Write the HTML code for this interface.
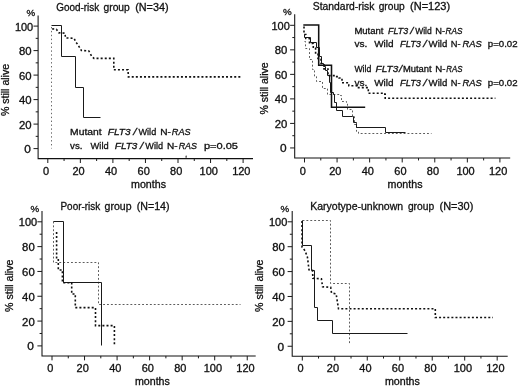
<!DOCTYPE html>
<html><head><meta charset="utf-8"><title>Survival by risk group</title>
<style>
html,body{margin:0;padding:0;background:#fff}
body{width:520px;height:386px;overflow:hidden}
svg{display:block}
text{font-family:"Liberation Sans",sans-serif;fill:#111;stroke:#111;stroke-width:0.3px}
.n{font-size:10px}
.t{font-size:10.6px}
.a{font-size:9.5px}
.b{font-size:9.0px}
.c{font-size:9.6px}
i{font-style:italic}
</style></head><body>
<svg width="520" height="386" viewBox="0 0 520 386">
<rect width="520" height="386" fill="#fff"/>
<path d="M38.1 15.5V158.6H253" fill="none" stroke="#111" stroke-width="1.05"/>
<path d="M33.50 148.60H38.1M35.70 136.35H38.1M33.50 124.10H38.1M35.70 111.85H38.1M33.50 99.60H38.1M35.70 87.35H38.1M33.50 75.10H38.1M35.70 62.85H38.1M33.50 50.60H38.1M35.70 38.35H38.1M33.50 26.10H38.1M47.80 158.6V163.00M64.07 158.6V161.00M80.35 158.6V163.00M96.62 158.6V161.00M112.90 158.6V163.00M129.18 158.6V161.00M145.45 158.6V163.00M161.72 158.6V161.00M178.00 158.6V163.00M194.27 158.6V161.00M210.55 158.6V163.00M226.82 158.6V161.00M243.10 158.6V163.00" fill="none" stroke="#1a1a1a" stroke-width="1"/>
<text x="24.20" y="153.00" class="n" textLength="6.6" lengthAdjust="spacingAndGlyphs">0</text>
<text x="19.00" y="128.50" class="n" textLength="12.6" lengthAdjust="spacingAndGlyphs">20</text>
<text x="19.00" y="104.00" class="n" textLength="12.6" lengthAdjust="spacingAndGlyphs">40</text>
<text x="19.00" y="79.50" class="n" textLength="12.6" lengthAdjust="spacingAndGlyphs">60</text>
<text x="19.00" y="55.00" class="n" textLength="12.6" lengthAdjust="spacingAndGlyphs">80</text>
<text x="14.90" y="30.50" class="n" textLength="18.3" lengthAdjust="spacingAndGlyphs">100</text>
<text x="42.95" y="174.70" class="n" textLength="6.1" lengthAdjust="spacingAndGlyphs">0</text>
<text x="72.45" y="174.70" class="n" textLength="12.2" lengthAdjust="spacingAndGlyphs">20</text>
<text x="105.00" y="174.70" class="n" textLength="12.2" lengthAdjust="spacingAndGlyphs">40</text>
<text x="137.55" y="174.70" class="n" textLength="12.2" lengthAdjust="spacingAndGlyphs">60</text>
<text x="170.10" y="174.70" class="n" textLength="12.2" lengthAdjust="spacingAndGlyphs">80</text>
<text x="199.60" y="174.70" class="n" textLength="18.3" lengthAdjust="spacingAndGlyphs">100</text>
<text x="232.15" y="174.70" class="n" textLength="18.3" lengthAdjust="spacingAndGlyphs">120</text>
<text x="26.50" y="16.20" class="n" style="font-size:9.2px" textLength="8.7" lengthAdjust="spacingAndGlyphs">%</text>
<text x="131.05" y="187.60" class="n" textLength="35" lengthAdjust="spacingAndGlyphs">months</text>
<text transform="translate(9.2 90) rotate(-90)" class="n" style="font-size:10.2px" x="-26.1" textLength="52.2" lengthAdjust="spacingAndGlyphs">% still alive</text>
<text x="56.2" y="10.5" class="t" textLength="43.0" lengthAdjust="spacingAndGlyphs">Good-risk</text>
<text x="103.5" y="10.5" class="t" textLength="26.3" lengthAdjust="spacingAndGlyphs">group</text>
<text x="135.2" y="10.5" class="t" textLength="33.4" lengthAdjust="spacingAndGlyphs">(N=34)</text>
<path d="M294.7 14.3V158.05H510.2" fill="none" stroke="#111" stroke-width="1.05"/>
<path d="M290.10 147.95H294.7M292.30 135.69H294.7M290.10 123.42H294.7M292.30 111.15H294.7M290.10 98.89H294.7M292.30 86.62H294.7M290.10 74.36H294.7M292.30 62.09H294.7M290.10 49.83H294.7M292.30 37.56H294.7M290.10 25.30H294.7M304.50 158.05V162.45M320.79 158.05V160.45M337.07 158.05V162.45M353.36 158.05V160.45M369.64 158.05V162.45M385.93 158.05V160.45M402.21 158.05V162.45M418.50 158.05V160.45M434.78 158.05V162.45M451.06 158.05V160.45M467.35 158.05V162.45M483.63 158.05V160.45M499.92 158.05V162.45" fill="none" stroke="#1a1a1a" stroke-width="1"/>
<text x="280.00" y="152.35" class="n" textLength="6.6" lengthAdjust="spacingAndGlyphs">0</text>
<text x="274.80" y="127.82" class="n" textLength="12.6" lengthAdjust="spacingAndGlyphs">20</text>
<text x="274.80" y="103.29" class="n" textLength="12.6" lengthAdjust="spacingAndGlyphs">40</text>
<text x="274.80" y="78.76" class="n" textLength="12.6" lengthAdjust="spacingAndGlyphs">60</text>
<text x="274.80" y="54.23" class="n" textLength="12.6" lengthAdjust="spacingAndGlyphs">80</text>
<text x="271.50" y="29.70" class="n" textLength="18.3" lengthAdjust="spacingAndGlyphs">100</text>
<text x="299.65" y="174.80" class="n" textLength="6.1" lengthAdjust="spacingAndGlyphs">0</text>
<text x="329.17" y="174.80" class="n" textLength="12.2" lengthAdjust="spacingAndGlyphs">20</text>
<text x="361.74" y="174.80" class="n" textLength="12.2" lengthAdjust="spacingAndGlyphs">40</text>
<text x="394.31" y="174.80" class="n" textLength="12.2" lengthAdjust="spacingAndGlyphs">60</text>
<text x="426.88" y="174.80" class="n" textLength="12.2" lengthAdjust="spacingAndGlyphs">80</text>
<text x="456.40" y="174.80" class="n" textLength="18.3" lengthAdjust="spacingAndGlyphs">100</text>
<text x="488.97" y="174.80" class="n" textLength="18.3" lengthAdjust="spacingAndGlyphs">120</text>
<text x="283.10" y="15.00" class="n" style="font-size:9.2px" textLength="8.7" lengthAdjust="spacingAndGlyphs">%</text>
<text x="387.50" y="187.60" class="n" textLength="35" lengthAdjust="spacingAndGlyphs">months</text>
<text transform="translate(268.1 88.4) rotate(-90)" class="n" style="font-size:10.2px" x="-26.1" textLength="52.2" lengthAdjust="spacingAndGlyphs">% still alive</text>
<text x="312.8" y="9.5" class="t" textLength="61.6" lengthAdjust="spacingAndGlyphs">Standard-risk</text>
<text x="378.7" y="9.5" class="t" textLength="26.1" lengthAdjust="spacingAndGlyphs">group</text>
<text x="410.0" y="9.5" class="t" textLength="40.2" lengthAdjust="spacingAndGlyphs">(N=123)</text>
<path d="M42.0 211V355.95H255.7" fill="none" stroke="#111" stroke-width="1.05"/>
<path d="M37.40 345.90H42.0M39.60 333.49H42.0M37.40 321.08H42.0M39.60 308.67H42.0M37.40 296.26H42.0M39.60 283.85H42.0M37.40 271.44H42.0M39.60 259.03H42.0M37.40 246.62H42.0M39.60 234.21H42.0M37.40 221.80H42.0M52.00 355.95V360.35M68.27 355.95V358.35M84.54 355.95V360.35M100.81 355.95V358.35M117.08 355.95V360.35M133.35 355.95V358.35M149.62 355.95V360.35M165.89 355.95V358.35M182.16 355.95V360.35M198.43 355.95V358.35M214.70 355.95V360.35M230.97 355.95V358.35M247.24 355.95V360.35" fill="none" stroke="#1a1a1a" stroke-width="1"/>
<text x="27.30" y="350.40" class="n" textLength="6.6" lengthAdjust="spacingAndGlyphs">0</text>
<text x="22.10" y="325.58" class="n" textLength="12.6" lengthAdjust="spacingAndGlyphs">20</text>
<text x="22.10" y="300.76" class="n" textLength="12.6" lengthAdjust="spacingAndGlyphs">40</text>
<text x="22.10" y="275.94" class="n" textLength="12.6" lengthAdjust="spacingAndGlyphs">60</text>
<text x="22.10" y="251.12" class="n" textLength="12.6" lengthAdjust="spacingAndGlyphs">80</text>
<text x="18.80" y="226.30" class="n" textLength="18.3" lengthAdjust="spacingAndGlyphs">100</text>
<text x="47.15" y="372.10" class="n" textLength="6.1" lengthAdjust="spacingAndGlyphs">0</text>
<text x="76.64" y="372.10" class="n" textLength="12.2" lengthAdjust="spacingAndGlyphs">20</text>
<text x="109.18" y="372.10" class="n" textLength="12.2" lengthAdjust="spacingAndGlyphs">40</text>
<text x="141.72" y="372.10" class="n" textLength="12.2" lengthAdjust="spacingAndGlyphs">60</text>
<text x="174.26" y="372.10" class="n" textLength="12.2" lengthAdjust="spacingAndGlyphs">80</text>
<text x="203.75" y="372.10" class="n" textLength="18.3" lengthAdjust="spacingAndGlyphs">100</text>
<text x="236.29" y="372.10" class="n" textLength="18.3" lengthAdjust="spacingAndGlyphs">120</text>
<text x="30.40" y="211.70" class="n" style="font-size:9.2px" textLength="8.7" lengthAdjust="spacingAndGlyphs">%</text>
<text x="134.90" y="385.00" class="n" textLength="35" lengthAdjust="spacingAndGlyphs">months</text>
<text transform="translate(13.1 285.8) rotate(-90)" class="n" style="font-size:10.2px" x="-26.1" textLength="52.2" lengthAdjust="spacingAndGlyphs">% still alive</text>
<text x="60.5" y="209.7" class="t" textLength="39.7" lengthAdjust="spacingAndGlyphs">Poor-risk</text>
<text x="104.6" y="209.7" class="t" textLength="26.9" lengthAdjust="spacingAndGlyphs">group</text>
<text x="136.7" y="209.7" class="t" textLength="32.9" lengthAdjust="spacingAndGlyphs">(N=14)</text>
<path d="M292.2 211V356.15H507.7" fill="none" stroke="#111" stroke-width="1.05"/>
<path d="M287.60 346.25H292.2M289.80 333.81H292.2M287.60 321.36H292.2M289.80 308.92H292.2M287.60 296.47H292.2M289.80 284.02H292.2M287.60 271.58H292.2M289.80 259.13H292.2M287.60 246.69H292.2M289.80 234.25H292.2M287.60 221.80H292.2M302.30 356.15V360.55M318.54 356.15V358.55M334.78 356.15V360.55M351.02 356.15V358.55M367.26 356.15V360.55M383.50 356.15V358.55M399.74 356.15V360.55M415.98 356.15V358.55M432.22 356.15V360.55M448.46 356.15V358.55M464.70 356.15V360.55M480.94 356.15V358.55M497.18 356.15V360.55" fill="none" stroke="#1a1a1a" stroke-width="1"/>
<text x="277.50" y="350.75" class="n" textLength="6.6" lengthAdjust="spacingAndGlyphs">0</text>
<text x="272.30" y="325.86" class="n" textLength="12.6" lengthAdjust="spacingAndGlyphs">20</text>
<text x="272.30" y="300.97" class="n" textLength="12.6" lengthAdjust="spacingAndGlyphs">40</text>
<text x="272.30" y="276.08" class="n" textLength="12.6" lengthAdjust="spacingAndGlyphs">60</text>
<text x="272.30" y="251.19" class="n" textLength="12.6" lengthAdjust="spacingAndGlyphs">80</text>
<text x="269.00" y="226.30" class="n" textLength="18.3" lengthAdjust="spacingAndGlyphs">100</text>
<text x="297.45" y="372.10" class="n" textLength="6.1" lengthAdjust="spacingAndGlyphs">0</text>
<text x="326.88" y="372.10" class="n" textLength="12.2" lengthAdjust="spacingAndGlyphs">20</text>
<text x="359.36" y="372.10" class="n" textLength="12.2" lengthAdjust="spacingAndGlyphs">40</text>
<text x="391.84" y="372.10" class="n" textLength="12.2" lengthAdjust="spacingAndGlyphs">60</text>
<text x="424.32" y="372.10" class="n" textLength="12.2" lengthAdjust="spacingAndGlyphs">80</text>
<text x="453.75" y="372.10" class="n" textLength="18.3" lengthAdjust="spacingAndGlyphs">100</text>
<text x="486.23" y="372.10" class="n" textLength="18.3" lengthAdjust="spacingAndGlyphs">120</text>
<text x="280.60" y="211.70" class="n" style="font-size:9.2px" textLength="8.7" lengthAdjust="spacingAndGlyphs">%</text>
<text x="384.90" y="385.00" class="n" textLength="35" lengthAdjust="spacingAndGlyphs">months</text>
<text transform="translate(263.1 285.8) rotate(-90)" class="n" style="font-size:10.2px" x="-26.1" textLength="52.2" lengthAdjust="spacingAndGlyphs">% still alive</text>
<text x="310.2" y="209.9" class="t" textLength="92.9" lengthAdjust="spacingAndGlyphs">Karyotype-unknown</text>
<text x="407.9" y="209.9" class="t" textLength="26.3" lengthAdjust="spacingAndGlyphs">group</text>
<text x="439.6" y="209.9" class="t" textLength="33.7" lengthAdjust="spacingAndGlyphs">(N=30)</text>
<path d="M51.5 27V148.5" fill="none" stroke="#444" stroke-width="0.8" stroke-dasharray="1.4 2.5"/>
<path d="M51.5 25.5 L61.5 25.5 L61.5 56.5 L75.5 56.5 L75.5 87.5 L83.5 87.5 L83.5 117.5 L100.5 117.5" fill="none" stroke="#1a1a1a" stroke-width="1"/>
<path d="M52.2 28.9 L56.4 29.2 L58.7 32.8 L65.0 33.2 L65.5 37.9 L74.0 38.3 L75.8 41.9 L78.6 45.9 L81.4 50.5 L88.8 50.9 L91.7 56.2 L94.0 58.4 L113.8 58.4 L113.8 69.8 L128.0 69.8 L128.4 76.9 L240.8 76.9" fill="none" stroke="#111" stroke-width="1.6" stroke-dasharray="2 2.1"/>
<path d="M185.3 157.5l0.8-2.6 0.9 2.6z" fill="#111"/>
<path d="M304.5 41.5 L305.5 41.5 L305.5 48.5 L309.5 48.5 L309.5 59.5 L312.5 59.5 L312.5 69.5 L314.5 69.5 L314.5 76.5 L316.5 76.5 L316.5 81.5 L322.5 81.5 L322.5 88.5 L327.5 88.5 L327.5 94.5 L339.5 94.5 L339.5 95.5 L341.5 95.5 L341.5 101.5 L346.5 101.5 L346.5 102.5 L347.5 102.5 L347.5 109.5 L351.5 109.5 L351.5 110.5 L352.5 110.5 L352.5 116.5 L354.5 116.5 L354.5 124.5 L356.5 124.5 L356.5 131.5 L358.5 131.5 L358.5 133.5 L431.5 133.5" fill="none" stroke="#333" stroke-width="0.8" stroke-dasharray="1.9 2"/>
<path d="M304.5 34.5 L304.5 37.5 L310.5 37.5 L310.5 42.5 L316.5 42.5 L316.5 47.5 L319.5 47.5 L319.5 56.5 L321.5 56.5 L321.5 63.5 L323.5 63.5 L323.5 66.5 L325.5 66.5 L325.5 70.5 L327.5 70.5 L327.5 75.5 L329.5 75.5 L329.5 82.5 L330.5 82.5 L330.5 92.5 L333.5 92.5 L333.5 94.5 L334.5 94.5 L334.5 102.5 L336.5 102.5 L336.5 110.5 L342.5 110.5 L342.5 116.5 L352.5 116.5 L353.5 116.5 L353.5 122.5 L356.5 122.5 L356.5 123.5 L356.5 123.5 L356.5 127.5 L385.5 127.5 L385.5 132.5 L405.5 132.5" fill="none" stroke="#1a1a1a" stroke-width="1"/>
<path d="M304.0 26.5 L304.0 34.5 L305.8 34.5 L305.8 38.5 L309.5 38.5 L309.5 43.5 L313.3 43.5 L313.3 48.0 L315.6 48.0 L315.6 53.8 L318.0 53.8 L318.0 58.5 L321.0 58.5 L321.0 63.5 L324.0 63.5 L324.0 69.0 L328.0 69.0 L328.0 75.6 L336.7 75.6 L336.7 76.6 L339.1 76.6 L339.1 78.0 L342.0 78.0 L342.0 82.8 L348.8 82.8 L348.8 85.7 L356.6 85.7 L356.6 87.6 L368.3 87.6 L368.3 93.2 L384.8 93.2 L384.8 94.2 L385.2 94.2 L385.2 98.2 L495.4 98.2" fill="none" stroke="#111" stroke-width="1.6" stroke-dasharray="2 2.1"/>
<path d="M303.3 25.0 L318.7 25.0 L318.7 65.3 L331.5 65.3 L331.5 107.2 L365.2 107.2" fill="none" stroke="#111" stroke-width="1.55"/>
<path d="M53.5 221.5 L53.5 262.5 L98.5 262.5 L98.5 304.5 L240.5 304.5" fill="none" stroke="#333" stroke-width="0.8" stroke-dasharray="1.9 2"/>
<path d="M53.5 221.5 L63.5 221.5 L63.5 282.5 L101.5 282.5 L101.5 345.5" fill="none" stroke="#1a1a1a" stroke-width="1"/>
<path d="M56.6 232.0 L56.6 259.0 L58.3 259.0 L58.3 270.0 L62.4 270.0 L62.4 282.7 L71.7 282.7 L71.7 294.0 L75.3 294.0 L75.3 307.6 L95.5 307.6 L95.5 325.6 L114.4 325.6 L114.4 345.6" fill="none" stroke="#111" stroke-width="1.6" stroke-dasharray="2 2.1"/>
<path d="M302.5 220.5 L330.5 220.5 L330.5 283.5 L349.5 283.5 L349.5 344.5" fill="none" stroke="#333" stroke-width="0.8" stroke-dasharray="1.9 2"/>
<path d="M302.5 220.5 L302.5 245.5 L311.5 245.5 L311.5 270.5 L314.5 270.5 L314.5 307.5 L317.5 307.5 L317.5 320.5 L332.5 320.5 L332.5 333.5 L407.5 333.5" fill="none" stroke="#1a1a1a" stroke-width="1"/>
<path d="M302.0 221.0 L302.0 247.0 L305.0 250.7 L307.4 257.0 L309.0 269.8 L312.5 270.5 L312.9 278.3 L321.4 278.8 L322.6 286.8 L330.7 287.3 L331.5 293.0 L336.1 293.8 L338.5 308.7 L435.3 308.7 L435.3 317.5 L493.0 317.5" fill="none" stroke="#111" stroke-width="1.6" stroke-dasharray="2 2.1"/>
<text x="70.1" y="135.3" class="a" textLength="31.5" lengthAdjust="spacingAndGlyphs">Mutant</text>
<text x="107.8" y="135.3" class="a" font-style="italic" textLength="22.8" lengthAdjust="spacingAndGlyphs">FLT3</text>
<text x="134.8" y="135.3" class="a" text-anchor="middle" font-style="italic" style="stroke-width:0.25px" transform="translate(134.8 0) scale(1.25 1) translate(-134.8 0)">/</text>
<text x="138.5" y="135.3" class="a" textLength="17.7" lengthAdjust="spacingAndGlyphs">Wild</text>
<text x="160.3" y="135.3" class="a" textLength="10.7" lengthAdjust="spacingAndGlyphs">N-</text>
<text x="171.8" y="135.3" class="a" font-style="italic" textLength="18.8" lengthAdjust="spacingAndGlyphs">RAS</text>
<text x="70.1" y="148.9" class="a" textLength="12.4" lengthAdjust="spacingAndGlyphs">vs.</text>
<text x="90.6" y="148.9" class="a" textLength="18.1" lengthAdjust="spacingAndGlyphs">Wild</text>
<text x="114.8" y="148.9" class="a" font-style="italic" textLength="22.6" lengthAdjust="spacingAndGlyphs">FLT3</text>
<text x="141.6" y="148.9" class="a" text-anchor="middle" font-style="italic" style="stroke-width:0.25px" transform="translate(141.6 0) scale(1.25 1) translate(-141.6 0)">/</text>
<text x="145.3" y="148.9" class="a" textLength="17.7" lengthAdjust="spacingAndGlyphs">Wild</text>
<text x="167.0" y="148.9" class="a" textLength="10.6" lengthAdjust="spacingAndGlyphs">N-</text>
<text x="178.7" y="148.9" class="a" font-style="italic" textLength="18.3" lengthAdjust="spacingAndGlyphs">RAS</text>
<text x="203.9" y="148.9" class="a" textLength="34.1" lengthAdjust="spacingAndGlyphs">p=0.05</text>
<text x="354.4" y="33.8" class="b" textLength="29.1" lengthAdjust="spacingAndGlyphs">Mutant</text>
<text x="388.1" y="33.8" class="b" font-style="italic" textLength="20.1" lengthAdjust="spacingAndGlyphs">FLT3</text>
<text x="411.9" y="33.8" class="b" text-anchor="middle" font-style="italic" style="stroke-width:0.25px" transform="translate(411.9 0) scale(1.25 1) translate(-411.9 0)">/</text>
<text x="415.2" y="33.8" class="b" textLength="16.5" lengthAdjust="spacingAndGlyphs">Wild</text>
<text x="435.2" y="33.8" class="b" textLength="9.8" lengthAdjust="spacingAndGlyphs">N-</text>
<text x="445.6" y="33.8" class="b" font-style="italic" textLength="16.9" lengthAdjust="spacingAndGlyphs">RAS</text>
<text x="354.4" y="47.2" class="c" textLength="12.9" lengthAdjust="spacingAndGlyphs">vs.</text>
<text x="374.2" y="47.2" class="c" textLength="19.4" lengthAdjust="spacingAndGlyphs">Wild</text>
<text x="400.0" y="47.2" class="c" font-style="italic" textLength="21.0" lengthAdjust="spacingAndGlyphs">FLT3</text>
<text x="424.9" y="47.2" class="c" text-anchor="middle" font-style="italic" style="stroke-width:0.25px" transform="translate(424.9 0) scale(1.25 1) translate(-424.9 0)">/</text>
<text x="428.6" y="47.2" class="c" textLength="18.7" lengthAdjust="spacingAndGlyphs">Wild</text>
<text x="450.8" y="47.2" class="c" textLength="9.8" lengthAdjust="spacingAndGlyphs">N-</text>
<text x="462.5" y="47.2" class="c" font-style="italic" textLength="19.2" lengthAdjust="spacingAndGlyphs">RAS</text>
<text x="487.8" y="47.2" class="b" textLength="29.8" lengthAdjust="spacingAndGlyphs">p=0.02</text>
<text x="354.4" y="85.7" class="c" textLength="12.9" lengthAdjust="spacingAndGlyphs">vs.</text>
<text x="374.2" y="85.7" class="c" textLength="19.4" lengthAdjust="spacingAndGlyphs">Wild</text>
<text x="400.0" y="85.7" class="c" font-style="italic" textLength="21.0" lengthAdjust="spacingAndGlyphs">FLT3</text>
<text x="424.9" y="85.7" class="c" text-anchor="middle" font-style="italic" style="stroke-width:0.25px" transform="translate(424.9 0) scale(1.25 1) translate(-424.9 0)">/</text>
<text x="428.6" y="85.7" class="c" textLength="18.7" lengthAdjust="spacingAndGlyphs">Wild</text>
<text x="450.8" y="85.7" class="c" textLength="9.8" lengthAdjust="spacingAndGlyphs">N-</text>
<text x="462.5" y="85.7" class="c" font-style="italic" textLength="19.2" lengthAdjust="spacingAndGlyphs">RAS</text>
<text x="487.8" y="85.7" class="b" textLength="29.8" lengthAdjust="spacingAndGlyphs">p=0.02</text>
<text x="354.4" y="72.1" class="b" textLength="16.9" lengthAdjust="spacingAndGlyphs">Wild</text>
<text x="375.6" y="72.1" class="b" font-style="italic" textLength="22.6" lengthAdjust="spacingAndGlyphs">FLT3</text>
<text x="400.6" y="72.1" class="b" text-anchor="middle" font-style="italic" style="stroke-width:0.25px" transform="translate(400.6 0) scale(1.25 1) translate(-400.6 0)">/</text>
<text x="402.9" y="72.1" class="b" textLength="28.7" lengthAdjust="spacingAndGlyphs">Mutant</text>
<text x="435.3" y="72.1" class="b" textLength="10.2" lengthAdjust="spacingAndGlyphs">N-</text>
<text x="446.2" y="72.1" class="b" font-style="italic" textLength="16.2" lengthAdjust="spacingAndGlyphs">RAS</text>
</svg></body></html>
